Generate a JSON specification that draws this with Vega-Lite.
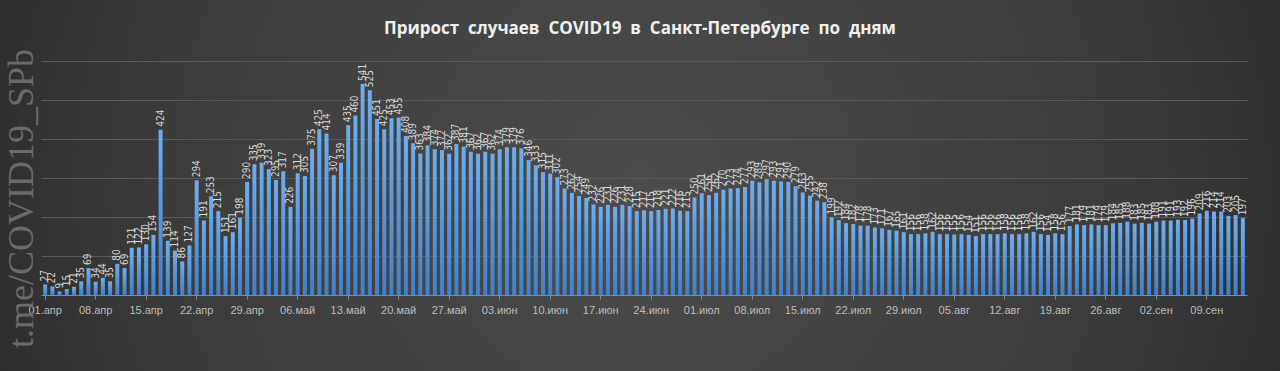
{
  "$schema": "https://vega.github.io/schema/vega-lite/v6.json",
  "autosize": "none",
  "width": 1280,
  "height": 371,
  "padding": 0,
  "background": "#2a2a2a",
  "config": {
    "view": {
      "stroke": null,
      "fill": {"gradient": "radial", "x1": 0.5, "y1": 0.5, "x2": 0.5, "y2": 0.5, "r1": 0, "r2": 0.72,
        "stops": [{"offset": 0, "color": "#4c4c4c"}, {"offset": 0.5, "color": "#3c3c3c"}, {"offset": 1, "color": "#1c1c1c"}]}
    }
  },
  "title": {
    "text": "Прирост \u00a0случаев \u00a0COVID19 \u00a0в \u00a0Санкт-Петербурге \u00a0по \u00a0дням",
    "font": "Open Sans",
    "fontSize": 17,
    "fontWeight": "bold",
    "color": "#f0f0f0",
    "anchor": "middle",
    "frame": "group",
    "offset": -38
  },
  "data": {"values": [
    {"d":"01.апр","v":27},{"d":"02.апр","v":22},{"d":"03.апр","v":9},{"d":"04.апр","v":15},{"d":"05.апр","v":21},{"d":"06.апр","v":35},{"d":"07.апр","v":69},
    {"d":"08.апр","v":34},{"d":"09.апр","v":44},{"d":"10.апр","v":35},{"d":"11.апр","v":80},{"d":"12.апр","v":69},{"d":"13.апр","v":121},{"d":"14.апр","v":122},
    {"d":"15.апр","v":130},{"d":"16.апр","v":154},{"d":"17.апр","v":424},{"d":"18.апр","v":139},{"d":"19.апр","v":114},{"d":"20.апр","v":86},{"d":"21.апр","v":127},
    {"d":"22.апр","v":294},{"d":"23.апр","v":191},{"d":"24.апр","v":253},{"d":"25.апр","v":215},{"d":"26.апр","v":151},{"d":"27.апр","v":161},{"d":"28.апр","v":198},
    {"d":"29.апр","v":290},{"d":"30.апр","v":335},{"d":"01.май","v":339},{"d":"02.май","v":323},{"d":"03.май","v":295},{"d":"04.май","v":317},{"d":"05.май","v":226},
    {"d":"06.май","v":312},{"d":"07.май","v":305},{"d":"08.май","v":375},{"d":"09.май","v":425},{"d":"10.май","v":414},{"d":"11.май","v":307},{"d":"12.май","v":339},
    {"d":"13.май","v":435},{"d":"14.май","v":460},{"d":"15.май","v":541},{"d":"16.май","v":525},{"d":"17.май","v":451},{"d":"18.май","v":425},{"d":"19.май","v":453},
    {"d":"20.май","v":455},{"d":"21.май","v":408},{"d":"22.май","v":389},{"d":"23.май","v":363},{"d":"24.май","v":384},{"d":"25.май","v":374},{"d":"26.май","v":372},
    {"d":"27.май","v":362},{"d":"28.май","v":387},{"d":"29.май","v":381},{"d":"30.май","v":367},{"d":"31.май","v":362},{"d":"01.июн","v":367},{"d":"02.июн","v":362},
    {"d":"03.июн","v":374},{"d":"04.июн","v":379},{"d":"05.июн","v":379},{"d":"06.июн","v":376},{"d":"07.июн","v":346},{"d":"08.июн","v":333},{"d":"09.июн","v":315},
    {"d":"10.июн","v":311},{"d":"11.июн","v":302},{"d":"12.июн","v":273},{"d":"13.июн","v":262},{"d":"14.июн","v":254},{"d":"15.июн","v":249},{"d":"16.июн","v":232},
    {"d":"17.июн","v":226},{"d":"18.июн","v":231},{"d":"19.июн","v":226},{"d":"20.июн","v":231},{"d":"21.июн","v":228},{"d":"22.июн","v":215},{"d":"23.июн","v":217},
    {"d":"24.июн","v":215},{"d":"25.июн","v":218},{"d":"26.июн","v":221},{"d":"27.июн","v":222},{"d":"28.июн","v":216},{"d":"29.июн","v":215},{"d":"30.июн","v":250},
    {"d":"01.июл","v":261},{"d":"02.июл","v":256},{"d":"03.июл","v":262},{"d":"04.июл","v":270},{"d":"05.июл","v":273},{"d":"06.июл","v":274},{"d":"07.июл","v":277},
    {"d":"08.июл","v":293},{"d":"09.июл","v":289},{"d":"10.июл","v":297},{"d":"11.июл","v":293},{"d":"12.июл","v":291},{"d":"13.июл","v":290},{"d":"14.июл","v":279},
    {"d":"15.июл","v":263},{"d":"16.июл","v":255},{"d":"17.июл","v":242},{"d":"18.июл","v":238},{"d":"19.июл","v":199},{"d":"20.июл","v":192},{"d":"21.июл","v":184},
    {"d":"22.июл","v":182},{"d":"23.июл","v":178},{"d":"24.июл","v":178},{"d":"25.июл","v":173},{"d":"26.июл","v":171},{"d":"27.июл","v":167},{"d":"28.июл","v":165},
    {"d":"29.июл","v":161},{"d":"30.июл","v":156},{"d":"31.июл","v":156},{"d":"01.авг","v":158},{"d":"02.авг","v":162},{"d":"03.авг","v":156},{"d":"04.авг","v":156},
    {"d":"05.авг","v":155},{"d":"06.авг","v":156},{"d":"07.авг","v":154},{"d":"08.авг","v":151},{"d":"09.авг","v":156},{"d":"10.авг","v":156},{"d":"11.авг","v":156},
    {"d":"12.авг","v":158},{"d":"13.авг","v":156},{"d":"14.авг","v":156},{"d":"15.авг","v":158},{"d":"16.авг","v":162},{"d":"17.авг","v":156},{"d":"18.авг","v":154},
    {"d":"19.авг","v":158},{"d":"20.авг","v":156},{"d":"21.авг","v":177},{"d":"22.авг","v":181},{"d":"23.авг","v":179},{"d":"24.авг","v":181},{"d":"25.авг","v":179},
    {"d":"26.авг","v":179},{"d":"27.авг","v":184},{"d":"28.авг","v":185},{"d":"29.авг","v":188},{"d":"30.авг","v":183},{"d":"31.авг","v":185},{"d":"01.сен","v":183},
    {"d":"02.сен","v":188},{"d":"03.сен","v":191},{"d":"04.сен","v":191},{"d":"05.сен","v":193},{"d":"06.сен","v":192},{"d":"07.сен","v":196},{"d":"08.сен","v":209},
    {"d":"09.сен","v":216},{"d":"10.сен","v":214},{"d":"11.сен","v":214},{"d":"12.сен","v":203},{"d":"13.сен","v":205},{"d":"14.сен","v":197}
  ]},
  "encoding": {
    "x": {
      "field": "d", "type": "ordinal", "sort": null,
      "scale": {"range": [41, 1247], "paddingInner": 0.45, "paddingOuter": 0.3},
      "axis": {
        "title": null, "offset": -76, "labelAngle": 0,
        "values": ["01.апр","08.апр","15.апр","22.апр","29.апр","06.май","13.май","20.май","27.май","03.июн","10.июн","17.июн","24.июн","01.июл","08.июл","15.июл","22.июл","29.июл","05.авг","12.авг","19.авг","26.авг","02.сен","09.сен"],
        "labelColor": "#bdbdbd", "labelFont": "Liberation Sans", "labelFontSize": 11, "labelPadding": 5,
        "domainColor": "#8a8a8a", "tickColor": "#8a8a8a", "tickSize": 4, "grid": false
      }
    },
    "y": {
      "field": "v", "type": "quantitative",
      "scale": {"domain": [0, 600], "range": [295, 61], "nice": false},
      "axis": {
        "values": [100, 200, 300, 400, 500, 600],
        "labels": false, "ticks": false, "domain": false,
        "grid": true, "gridColor": "#5a5a5a", "gridWidth": 1,
        "title": "t.me/COVID19_SPb", "titleFont": "Liberation Serif", "titleFontSize": 36,
        "titleFontWeight": "normal", "titleColor": "#6b6b6b", "titleX": 40, "titleY": 198,
        "titleAlign": "center", "titleBaseline": "bottom", "titleAngle": 270
      }
    }
  },
  "layer": [
    {
      "mark": {"type": "bar", "color": {"gradient": "linear", "x1": 0, "y1": 0, "x2": 0, "y2": 1,
        "stops": [{"offset": 0, "color": "#6eaef0"}, {"offset": 1, "color": "#3f7fc8"}]}}
    },
    {
      "mark": {"type": "text", "angle": 270, "align": "left", "baseline": "middle", "dx": 3,
        "color": "#d8d8d8", "fontSize": 10, "font": "Liberation Sans Narrow, DejaVu Sans Condensed, sans-serif"},
      "encoding": {"text": {"field": "v", "type": "quantitative"}}
    }
  ]
}
